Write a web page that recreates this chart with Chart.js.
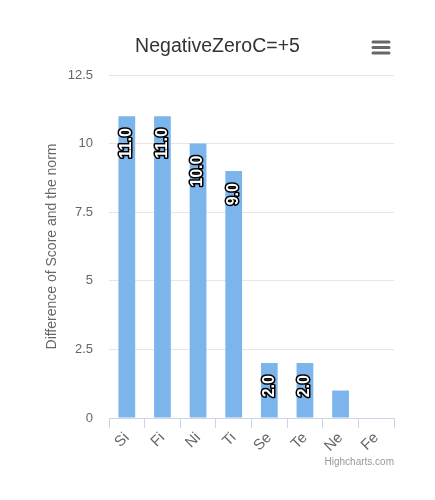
<!DOCTYPE html>
<html>
<head>
<meta charset="utf-8">
<script src="https://cdn.jsdelivr.net/npm/chart.js@4.4.0/dist/chart.umd.min.js"></script>
<style>
  body { margin: 0; background: #fff; }
  #wrap { width: 435px; height: 500px; }
</style>
</head>
<body>
<div id="wrap"><canvas id="chart" width="435" height="500"></canvas></div>
<script>
// chart data
const categories = ['Si', 'Fi', 'Ni', 'Ti', 'Se', 'Te', 'Ne', 'Fe'];
const scores = [11, 11, 10, 9, 2, 2, 1, 0];
const yTicks = [0, 2.5, 5, 7.5, 10, 12.5];

const FONT = '"Liberation Sans", Arial, Helvetica, sans-serif';

// data labels drawn inside the bars, rotated, white with dark outline
const barLabels = {
  id: 'barLabels',
  afterDatasetsDraw(chart) {
    const ctx = chart.ctx;
    const meta = chart.getDatasetMeta(0);
    ctx.save();
    ctx.font = 'bold 16px ' + FONT;
    ctx.textAlign = 'right';
    ctx.textBaseline = 'middle';
    ctx.lineJoin = 'round';
    meta.data.forEach((bar, i) => {
      const txt = scores[i].toFixed(1);
      const h = bar.base - bar.y;
      // skip when the label doesn't fit in the bar
      if (ctx.measureText(txt).width + 24 > h) return;
      ctx.save();
      ctx.translate(bar.x, bar.y + 12);
      ctx.rotate(-Math.PI / 2);
      ctx.lineWidth = 3;
      ctx.strokeStyle = '#000';
      ctx.strokeText(txt, 0, 0);
      ctx.fillStyle = '#fff';
      ctx.fillText(txt, 0, 0);
      ctx.restore();
    });
    ctx.restore();
  }
};

// title, menu icon and credits text
const extras = {
  id: 'extras',
  afterDraw(chart) {
    const ctx = chart.ctx;
    ctx.save();
    ctx.font = '19.5px ' + FONT;
    ctx.fillStyle = '#333';
    ctx.textAlign = 'center';
    ctx.textBaseline = 'middle';
    ctx.fillText('NegativeZeroC=+5', 217.5, 47);

    ctx.strokeStyle = '#666';
    ctx.lineWidth = 3;
    ctx.lineCap = 'round';
    [42, 47.5, 53].forEach(y => {
      ctx.beginPath();
      ctx.moveTo(373, y);
      ctx.lineTo(389, y);
      ctx.stroke();
    });
    ctx.font = '10px ' + FONT;
    ctx.fillStyle = '#999';
    ctx.textAlign = 'right';
    ctx.textBaseline = 'alphabetic';
    ctx.fillText('Highcharts.com', 394, 465);
    ctx.restore();
  }
};

new Chart(document.getElementById('chart'), {
  type: 'bar',
  data: {
    labels: categories,
    datasets: [{
      data: scores,
      backgroundColor: '#7cb5ec',
      borderWidth: 0,
      barPercentage: 0.47,
      categoryPercentage: 1
    }]
  },
  options: {
    responsive: false,
    animation: false,
    layout: { padding: { left: 0, right: 41, top: 75, bottom: 0 } },
    plugins: {
      legend: { display: false },
      tooltip: { enabled: false },
      title: { display: false }
    },
    scales: {
      x: {
        grid: {
          offset: true,
          drawOnChartArea: false,
          drawTicks: true,
          tickLength: 10,
          color: '#ccd6eb'
        },
        border: { color: '#ccd6eb' },
        ticks: {
          color: '#666',
          font: { family: FONT, size: 15 },
          minRotation: 45,
          maxRotation: 45,
          padding: 1
        },
        afterFit(scale) { scale.height = 82; }
      },
      y: {
        min: 0,
        max: 12.5,
        afterBuildTicks(scale) { scale.ticks = yTicks.map(v => ({ value: v })); },
        grid: { color: '#e6e6e6', drawTicks: false },
        border: { display: false },
        ticks: {
          color: '#666',
          font: { family: FONT, size: 13 },
          padding: 16
        },
        title: {
          display: true,
          text: 'Difference of Score and the norm',
          color: '#666',
          font: { family: FONT, size: 14 },
          padding: { top: 44, bottom: 0 }
        },
        afterFit(scale) { scale.width = 109; }
      }
    }
  },
  plugins: [barLabels, extras]
});
</script>
</body>
</html>
